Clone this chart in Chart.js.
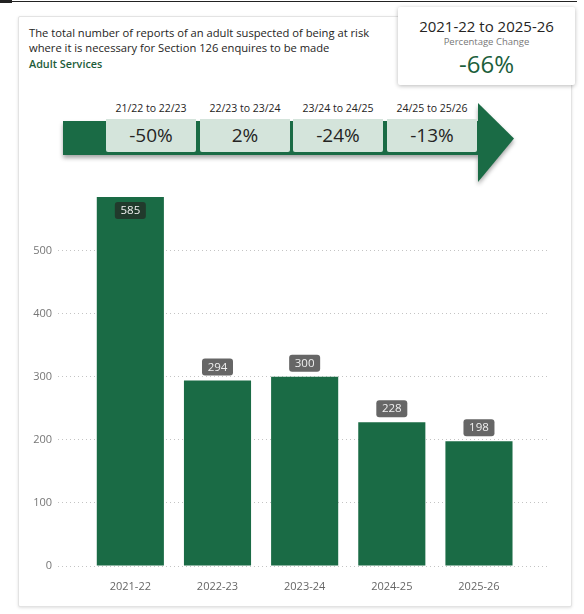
<!DOCTYPE html>
<html>
<head>
<meta charset="utf-8">
<script src="https://cdn.jsdelivr.net/npm/chart.js@4.4.1/dist/chart.umd.min.js"></script>
<style>
  body { margin: 0; width: 584px; height: 614px; background: #fff; position: relative; overflow: hidden;
         font-family: "Segoe UI", "Open Sans", sans-serif; color: #252423; }
  #topline { position: absolute; left: 0; top: 1px; width: 577px; height: 1px; background: #222; }
  #topline:before { content: ""; position: absolute; left: 0; top: -1px; width: 12px; height: 3px; background: #222; }
  .card { position: absolute; left: 18px; top: 16px; width: 552px; height: 589px; background: #fff;
          border: 1px solid #e3e3e3; border-radius: 2px; box-shadow: 0 1px 3px rgba(0,0,0,0.12); }
  .title { position: absolute; left: 29px; top: 25px; font-size: 11.2px; line-height: 15px; color: #252423; }
  .title .sub { color: #1d5c3a; font-weight: 600; font-size: 10.8px; margin-top: 1px; }
  .summary { position: absolute; left: 398px; top: 7px; width: 177px; height: 78px; background: #fff;
             border-radius: 2px; box-shadow: 0 1px 4px rgba(0,0,0,0.28); text-align: center; }
  .summary .range { font-size: 15px; margin-top: 10px; line-height: 18px; }
  .summary .cap { font-size: 9.5px; color: #777; line-height: 12px; margin-top: 1px; }
  .summary .big { font-size: 24px; color: #1b5e3b; line-height: 28px; margin-top: 2px; }
  .arrow { position: absolute; left: 0; top: 0; width: 584px; height: 200px; filter: drop-shadow(0 3px 2px rgba(0,0,0,0.35)); }
  .band { position: absolute; left: 63px; top: 121px; width: 416px; height: 34px; background: #1a6b45; }
  .head { position: absolute; left: 478px; top: 103px; width: 36px; height: 79px; background: #1a6b45;
          clip-path: polygon(0 0, 100% 45%, 0 100%); }
  .step { position: absolute; top: 119px; width: 90px; height: 33px; background: #d4e4db; border-radius: 0 0 2px 2px;
          text-align: center; font-size: 19px; line-height: 33px; color: #252423; }
  .step span { position: absolute; left: -10px; right: -10px; top: -17px; font-size: 10.5px; line-height: 13px; color: #252423; }
  .plot { position: absolute; left: 20px; top: 175px; width: 530px; height: 425px; }
</style>
</head>
<body>
<div id="topline"></div>
<div class="card"></div>
<div class="title">
  The total number of reports of an adult suspected of being at risk<br>
  where it is necessary for Section 126 enquires to be made
  <div class="sub">Adult Services</div>
</div>
<div class="arrow"><div class="band"></div><div class="head"></div></div>
<div id="steps"></div>
<div class="summary">
  <div class="range" id="range"></div>
  <div class="cap">Percentage Change</div>
  <div class="big" id="overall"></div>
</div>
<div class="plot"><canvas id="reportsChart"></canvas></div>

<script>
// Section 126 reports by financial year
const seasons = ["2021-22", "2022-23", "2023-24", "2024-25", "2025-26"];
const reports = [585, 294, 300, 228, 198];
const stepLabels = ["21/22 to 22/23", "22/23 to 23/24", "23/24 to 24/25", "24/25 to 25/26"];
const yTicks = [0, 100, 200, 300, 400, 500];

const barGreen = "#1a6b45";
const fontStack = '"Segoe UI", "Open Sans", sans-serif';

function pctChange(from, to) {
    return Math.round((to - from) / from * 100) + "%";
}

// year-on-year boxes sitting on the arrow
const steps = document.getElementById("steps");
const stepLeft = [106, 200, 293, 387];
stepLabels.forEach((label, i) => {
    const box = document.createElement("div");
    box.className = "step";
    box.style.left = stepLeft[i] + "px";
    box.innerHTML = `<span>${label}</span>${pctChange(reports[i], reports[i + 1])}`;
    steps.appendChild(box);
});

document.getElementById("range").textContent = seasons[0] + " to " + seasons[seasons.length - 1];
document.getElementById("overall").textContent = pctChange(reports[0], reports[reports.length - 1]);

// value tags above each bar (inside the bar when there is no room)
const valueTags = {
    id: "valueTags",
    afterDatasetsDraw(chart) {
        const { ctx, chartArea } = chart;
        const meta = chart.getDatasetMeta(0);
        ctx.save();
        ctx.font = "11.5px " + fontStack;
        ctx.textAlign = "center";
        ctx.textBaseline = "middle";
        meta.data.forEach((bar, i) => {
            const w = 31, h = 17;
            let top = bar.y - 5 - h;
            let fill = "#666666";
            if (top < chartArea.top) {
                top = bar.y + 5;
                fill = "#213a2c";
            }
            ctx.fillStyle = fill;
            ctx.beginPath();
            ctx.roundRect(bar.x - w / 2, top, w, h, 3);
            ctx.fill();
            ctx.fillStyle = "#f0f0f0";
            ctx.fillText(String(reports[i]), bar.x, top + h / 2 + 0.5);
        });
        ctx.restore();
    }
};

new Chart(document.getElementById("reportsChart"), {
    type: "bar",
    data: {
        datasets: [{
            data: reports.map((v, i) => ({ x: i, y: v })),
            backgroundColor: barGreen,
            borderWidth: 0,
            barPercentage: 1,
            categoryPercentage: 0.77,
        }],
    },
    options: {
        responsive: true,
        maintainAspectRatio: false,
        animation: false,
        layout: { padding: 0 },
        plugins: { legend: { display: false }, tooltip: { enabled: false } },
        scales: {
            x: {
                type: "linear",
                offset: false,
                min: -0.83,
                max: 4.815,
                afterBuildTicks: axis => { axis.ticks = seasons.map((_, i) => ({ value: i })); },
                afterFit: axis => { axis.height = 34; },
                grid: { display: false },
                border: { display: false },
                ticks: {
                    autoSkip: false,
                    maxRotation: 0,
                    padding: 6,
                    color: "#666666",
                    font: { family: fontStack, size: 11 },
                    callback: v => seasons[v] ?? "",
                },
            },
            y: {
                min: 0,
                max: 600,
                afterBuildTicks: axis => { axis.ticks = yTicks.map(v => ({ value: v })); },
                afterFit: axis => { axis.width = 38; },
                grid: { color: "#c4c4c4", lineWidth: 1, drawTicks: false },
                border: { display: false, dash: [1, 3] },
                ticks: {
                    padding: 6,
                    color: "#777777",
                    font: { family: fontStack, size: 11 },
                },
            },
        },
    },
    plugins: [valueTags],
});
</script>
</body>
</html>
